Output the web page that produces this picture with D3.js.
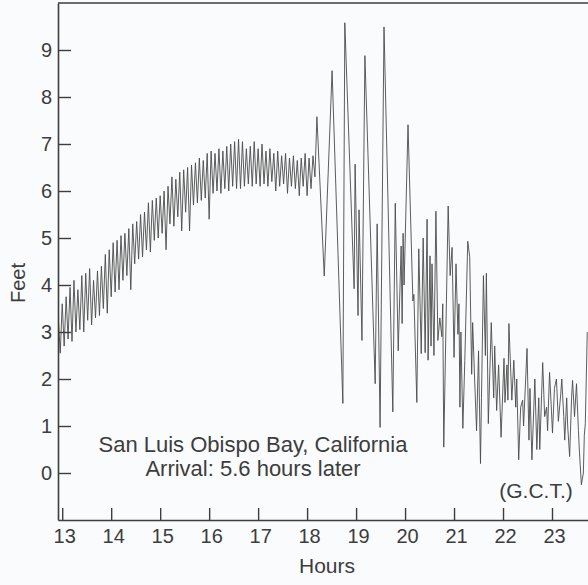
<!DOCTYPE html>
<html>
<head>
<meta charset="utf-8">
<script src="https://cdn.jsdelivr.net/npm/d3@7"></script>
<style>
  html, body { margin: 0; padding: 0; background: #fafbfc; }
  svg { display: block; font-family: "Liberation Sans", Arial, Helvetica, sans-serif; }
</style>
</head>
<body>
<svg id="chart"></svg>
<script>
const width = 588;
const height = 585;

// tick values
const hourTicks = [13, 14, 15, 16, 17, 18, 19, 20, 21, 22, 23];
const feetTicks = [0, 1, 2, 3, 4, 5, 6, 7, 8, 9];

// tide gauge record [hour GCT, feet]
const steadyRise = [
  [12.92, 3.30], [12.96, 2.55], [13.00, 3.60], [13.04, 2.70], [13.08, 3.75], [13.12, 2.85], [13.16, 3.95], [13.20, 2.80],
  [13.24, 4.10], [13.28, 3.00], [13.32, 3.90], [13.36, 3.05], [13.40, 4.20], [13.44, 3.00], [13.48, 4.25], [13.52, 3.25],
  [13.56, 4.35], [13.60, 3.15], [13.64, 4.10], [13.68, 3.30], [13.72, 4.30], [13.76, 3.35], [13.80, 4.40], [13.84, 3.50],
  [13.88, 4.65], [13.92, 3.40], [13.96, 4.75], [14.00, 3.75], [14.04, 4.90], [14.08, 3.85], [14.12, 4.95], [14.16, 3.90],
  [14.20, 5.05], [14.24, 4.10], [14.28, 5.10], [14.32, 4.20], [14.36, 5.20], [14.40, 3.90], [14.44, 5.30], [14.48, 4.45],
  [14.52, 5.35], [14.56, 4.55], [14.60, 5.50], [14.64, 4.60], [14.68, 5.55], [14.72, 4.75], [14.76, 5.75], [14.80, 4.70],
  [14.84, 5.80], [14.88, 4.95], [14.92, 5.85], [14.96, 5.00], [15.00, 5.90], [15.04, 5.10], [15.08, 6.00], [15.12, 4.75],
  [15.16, 6.10], [15.20, 5.30], [15.24, 6.30], [15.28, 5.25], [15.32, 6.25], [15.36, 5.45], [15.40, 6.40], [15.44, 5.15],
  [15.48, 6.45], [15.52, 5.55], [15.56, 6.50], [15.60, 5.15], [15.64, 6.55], [15.68, 5.70], [15.72, 6.60], [15.76, 5.75],
  [15.80, 6.70], [15.84, 5.80], [15.88, 6.65], [15.92, 5.85], [15.96, 6.80], [16.00, 5.40], [16.04, 6.85], [16.08, 5.95],
  [16.12, 6.80], [16.16, 6.00], [16.20, 6.90], [16.24, 5.95], [16.28, 6.85], [16.32, 6.05], [16.36, 6.95], [16.40, 6.00],
  [16.44, 7.00], [16.48, 6.10], [16.52, 7.05], [16.56, 6.05], [16.60, 7.10], [16.64, 6.05], [16.68, 7.05], [16.72, 6.10],
  [16.76, 6.90], [16.80, 6.15], [16.84, 6.95], [16.88, 6.10], [16.92, 7.05], [16.96, 6.15], [17.00, 6.90], [17.04, 6.10],
  [17.08, 7.00], [17.12, 6.15], [17.16, 6.85], [17.20, 6.10], [17.24, 6.90], [17.28, 6.20], [17.32, 6.80], [17.36, 6.00],
  [17.40, 6.85], [17.44, 6.10], [17.48, 6.75], [17.52, 6.15], [17.56, 6.80], [17.60, 5.95], [17.64, 6.70], [17.68, 6.10],
  [17.72, 6.75], [17.76, 6.05], [17.80, 6.65], [17.84, 5.90], [17.88, 6.70], [17.92, 6.10], [17.96, 6.80], [18.00, 5.90],
  [18.04, 6.70], [18.08, 6.05], [18.12, 6.75], [18.16, 6.30]
];

const surge = [
  [18.20, 7.58], [18.35, 4.19], [18.51, 8.56], [18.73, 1.48], [18.77, 9.58], [18.96, 3.92], [18.98, 6.57], [19.04, 3.35],
  [19.06, 5.60], [19.12, 2.82], [19.18, 8.88], [19.39, 1.90], [19.43, 5.30], [19.49, 0.97], [19.57, 9.49], [19.75, 1.30],
  [19.80, 5.74], [19.86, 2.60], [19.92, 4.83], [19.94, 3.18], [19.96, 5.10], [19.98, 4.00]
];

const decay = [
  [20.06, 7.41], [20.16, 3.66], [20.18, 3.80], [20.24, 1.50], [20.28, 4.77], [20.33, 2.54], [20.37, 5.00], [20.41, 2.56],
  [20.45, 5.40], [20.47, 2.40], [20.51, 4.62], [20.53, 2.70], [20.55, 4.45], [20.59, 2.50], [20.63, 5.57], [20.67, 2.82],
  [20.71, 3.30], [20.75, 2.90], [20.77, 3.60], [20.79, 0.55], [20.88, 5.68], [20.92, 4.20], [20.96, 4.80], [21.00, 2.46],
  [21.04, 4.45], [21.08, 2.95], [21.10, 3.60], [21.12, 1.40], [21.14, 3.00], [21.18, 0.95], [21.22, 2.40], [21.28, 4.93],
  [21.32, 4.60], [21.36, 2.10], [21.38, 3.20], [21.42, 2.00], [21.46, 0.90], [21.50, 2.60], [21.54, 0.20], [21.56, 1.60],
  [21.60, 4.20], [21.64, 2.50], [21.66, 4.25], [21.70, 1.05], [21.76, 3.20], [21.81, 1.60], [21.83, 2.70], [21.87, 1.33],
  [21.91, 2.30], [21.96, 0.76], [22.02, 2.44], [22.04, 1.50], [22.08, 2.30], [22.10, 1.55], [22.12, 3.18], [22.18, 1.55],
  [22.22, 2.40], [22.26, 1.40], [22.28, 2.00], [22.32, 0.28], [22.36, 1.40], [22.40, 1.55], [22.42, 1.00], [22.49, 2.65],
  [22.53, 0.70], [22.55, 1.80], [22.59, 0.28], [22.65, 2.00], [22.69, 0.50], [22.73, 1.60], [22.75, 0.50], [22.81, 2.35],
  [22.85, 1.20], [22.89, 1.40], [22.91, 0.90], [22.95, 2.14], [22.99, 1.30], [23.01, 0.85], [23.05, 1.80], [23.09, 2.00],
  [23.13, 1.10], [23.18, 1.70], [23.20, 2.00], [23.24, 1.20], [23.26, 0.70], [23.30, 1.60], [23.32, 1.00], [23.36, 0.35],
  [23.40, 1.60], [23.42, 1.97], [23.46, 1.20], [23.50, 1.90], [23.54, 0.90], [23.56, 0.45], [23.60, -0.25], [23.64, 0.00],
  [23.66, 0.80], [23.68, 1.05], [23.72, 3.00]
];

const record = steadyRise.concat(surge, decay);

const ink = '#3d3d3d';

const svg = d3.select('#chart')
  .attr('width', width)
  .attr('height', height);

const x = d3.scaleLinear()
  .domain([12.914, 23.735])
  .range([58, 588]);

const y = d3.scaleLinear()
  .domain([-1, 10])
  .range([520, 3]);

svg.append('defs').append('clipPath')
  .attr('id', 'plot-clip')
  .append('rect')
  .attr('x', 58).attr('y', 3)
  .attr('width', 530).attr('height', 517);

// trace
const line = d3.line()
  .x((d) => x(d[0]))
  .y((d) => y(d[1]));

svg.append('path')
  .datum(record)
  .attr('clip-path', 'url(#plot-clip)')
  .attr('fill', 'none')
  .attr('stroke', '#4b4b4b')
  .attr('stroke-width', 0.9)
  .attr('stroke-linejoin', 'miter')
  .attr('d', line);

// axes
const yAxis = svg.append('g')
  .attr('transform', 'translate(58,0)')
  .call(d3.axisLeft(y).tickValues(feetTicks).tickSize(-13).tickSizeOuter(0).tickPadding(6));

const xAxis = svg.append('g')
  .attr('transform', 'translate(0,520)')
  .call(d3.axisBottom(x).tickValues(hourTicks).tickSize(-12).tickSizeOuter(0).tickPadding(9));

[yAxis, xAxis].forEach((g) => {
  g.select('.domain').attr('stroke', ink).attr('stroke-width', 1.6);
  g.selectAll('.tick line').attr('stroke', ink).attr('stroke-width', 1.4);
  g.selectAll('.tick text')
    .attr('fill', ink)
    .style('font-size', '20px')
    .style('font-family', '"Liberation Sans", Arial, sans-serif');
});
xAxis.selectAll('.tick text').attr('dx', 2);

// top frame line
svg.append('line')
  .attr('x1', 58).attr('x2', 588)
  .attr('y1', 3).attr('y2', 3)
  .attr('stroke', ink)
  .attr('stroke-width', 1.6);

// axis titles
svg.append('text')
  .attr('x', 327)
  .attr('y', 573)
  .attr('text-anchor', 'middle')
  .attr('fill', ink)
  .style('font-size', '21px')
  .text('Hours');

svg.append('text')
  .attr('transform', 'translate(25,283) rotate(-90)')
  .attr('text-anchor', 'middle')
  .attr('fill', ink)
  .style('font-size', '20px')
  .text('Feet');

// annotations
svg.append('text')
  .attr('x', 253)
  .attr('y', 452)
  .attr('text-anchor', 'middle')
  .attr('fill', ink)
  .style('font-size', '22px')
  .text('San Luis Obispo Bay, California');

svg.append('text')
  .attr('x', 253)
  .attr('y', 476)
  .attr('text-anchor', 'middle')
  .attr('fill', ink)
  .style('font-size', '22px')
  .text('Arrival: 5.6 hours later');

svg.append('text')
  .attr('x', 536)
  .attr('y', 498)
  .attr('text-anchor', 'middle')
  .attr('fill', ink)
  .style('font-size', '21px')
  .text('(G.C.T.)');
</script>
</body>
</html>
